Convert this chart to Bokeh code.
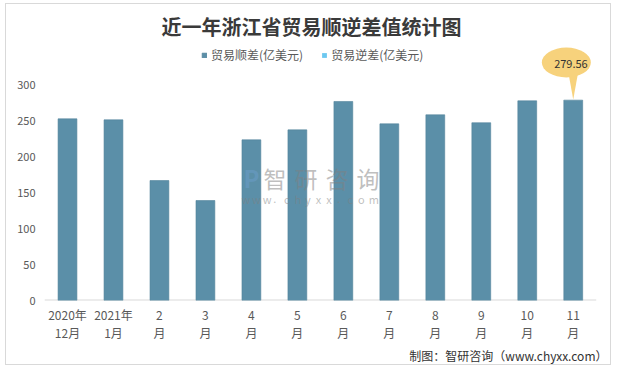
from bokeh.plotting import figure
from bokeh.models import (ColumnDataSource, FixedTicker, LinearAxis, Label, Legend,
                          LegendItem, Range1d, Title)
from bokeh.embed import file_html
from bokeh.resources import INLINE

# ---- data ----
label_line1 = ["2020年", "2021年", "2", "3", "4", "5", "6", "7", "8", "9", "10", "11"]
label_line2 = ["12月", "1月", "月", "月", "月", "月", "月", "月", "月", "月", "月", "月"]
surplus = [253.5, 252.1, 167.4, 139.5, 224.2, 238.1, 277.7, 246.5, 259.1, 248.0, 278.6, 279.56]
deficit = [0, 0, 0, 0, 0, 0, 0, 0, 0, 0, 0, 0]  # no deficit months
y_ticks = [0, 50, 100, 150, 200, 250, 300]
series_names = ["贸易顺差(亿美元)", "贸易逆差(亿美元)"]
title_text = "近一年浙江省贸易顺逆差值统计图"
source_text = "制图：智研咨询（www.chyxx.com）"
watermark_cn = "智研咨询"
watermark_url = "www.chyxx.com"
highlight_text = f"{surplus[-1]:.2f}"

FONT = "Noto Sans CJK SC"
BAR = "#5B8FA8"
BAR2 = "#6CC8F0"
TXT = "#595959"

xs = list(range(len(surplus)))
n = len(xs)

p = figure(width=606, height=362, output_backend="svg", toolbar_location=None,
           x_range=Range1d(-0.5, n - 0.146), y_range=Range1d(0, 413),
           min_border_left=38, min_border_right=0, min_border_top=0,
           min_border_bottom=66, background_fill_color="white",
           border_fill_color="white", outline_line_color=None)
p.styles = {"border": "1px solid #D9D9D9", "margin-left": "5px", "margin-top": "3px"}
p.grid.visible = False

# category baseline (spans the 12 category slots only)
p.segment(x0=[-0.5], x1=[n - 0.5], y0=[0], y1=[0], line_color="#D9D9D9", line_width=2)

src = ColumnDataSource(dict(x=xs, top=surplus))
r1 = p.vbar(x="x", top="top", width=0.41, source=src, fill_color=BAR,
            line_color="#52839B", line_width=0.6)
src2 = ColumnDataSource(dict(x=xs, top=deficit))
r2 = p.vbar(x="x", top="top", width=0.41, source=src2, fill_color=BAR2, line_color=None)

# axes
p.xaxis.ticker = FixedTicker(ticks=xs)
p.xaxis.major_label_overrides = {i: t for i, t in enumerate(label_line1)}
p.xaxis.axis_line_color = None
p.xaxis.major_tick_line_color = None
p.xaxis.minor_tick_line_color = None
p.xaxis.major_tick_out = 0
p.xaxis.major_label_standoff = 5
p.xaxis.major_label_text_font = FONT
p.xaxis.major_label_text_font_size = "12px"
p.xaxis.major_label_text_color = TXT

ax2 = LinearAxis(ticker=FixedTicker(ticks=xs),
                 major_label_overrides={i: t for i, t in enumerate(label_line2)},
                 axis_line_color=None, major_tick_line_color=None,
                 minor_tick_line_color=None, major_tick_out=0,
                 major_label_standoff=-2, major_label_text_font=FONT,
                 major_label_text_font_size="12px", major_label_text_color=TXT)
p.add_layout(ax2, "below")

footer = Title(text=source_text, align="right", offset=5, standoff=3,
               text_font=FONT, text_font_size="12px", text_font_style="normal",
               text_color="#333333")
p.add_layout(footer, "below")

p.yaxis.ticker = FixedTicker(ticks=y_ticks)
p.yaxis.axis_line_color = None
p.yaxis.major_tick_line_color = None
p.yaxis.minor_tick_line_color = None
p.yaxis.major_tick_out = 0
p.yaxis.major_label_standoff = 9
p.yaxis.major_label_text_font = FONT
p.yaxis.major_label_text_font_size = "11px"
p.yaxis.major_label_text_color = TXT

# legend
legend = Legend(items=[LegendItem(label=series_names[0], renderers=[r1]),
                       LegendItem(label=series_names[1], renderers=[r2])],
                orientation="horizontal", location=(157, 237),
                glyph_width=6, glyph_height=6, label_height=14,
                label_standoff=4, spacing=18, padding=0, margin=0,
                border_line_color=None, background_fill_alpha=0,
                label_text_font=FONT, label_text_font_size="12px",
                label_text_color=TXT)
p.add_layout(legend)

# highlight bubble on last bar
xl = xs[-1]
vl = surplus[-1]
p.patch(x=[xl - 0.11, xl + 0.11, xl], y=[vl + 40, vl + 40, vl + 1],
        fill_color="#F7D27C", line_color=None)
p.ellipse(x=xl - 0.15, y=vl + 52.5, width=49, height=30, width_units="screen",
          height_units="screen", fill_color="#F7D27C", line_color=None)
p.add_layout(Label(x=xl - 0.05, y=vl + 50, text=highlight_text, text_align="center",
                   text_baseline="middle", text_font=FONT, text_font_size="11px",
                   text_color="#333333"))

# watermark
p.add_layout(Label(x=236, y=172, x_units="canvas", y_units="canvas", text="P",
                   text_font=FONT, text_font_size="24px", text_font_style="bold",
                   text_color="#6FA0D0", text_alpha=0.45, text_baseline="middle"))
for i, ch in enumerate(watermark_cn):
    p.add_layout(Label(x=256 + i * 31, y=172, x_units="canvas", y_units="canvas",
                       text=ch, text_font=FONT, text_font_size="23px",
                       text_color="#808080", text_alpha=0.5, text_baseline="middle"))
for i, ch in enumerate(watermark_url):
    p.add_layout(Label(x=234 + i * 10.6, y=193, x_units="canvas", y_units="canvas",
                       text=ch, text_font=FONT, text_font_size="11px",
                       text_color="#808080", text_alpha=0.5, text_baseline="middle"))

# title
p.add_layout(Label(x=304, y=21, x_units="canvas", y_units="canvas", text=title_text,
                   text_align="center", text_baseline="middle", text_font=FONT,
                   text_font_size="20px", text_font_style="bold", text_color="#3A3A3A"))

open("out.html", "w").write(file_html(p, INLINE))
